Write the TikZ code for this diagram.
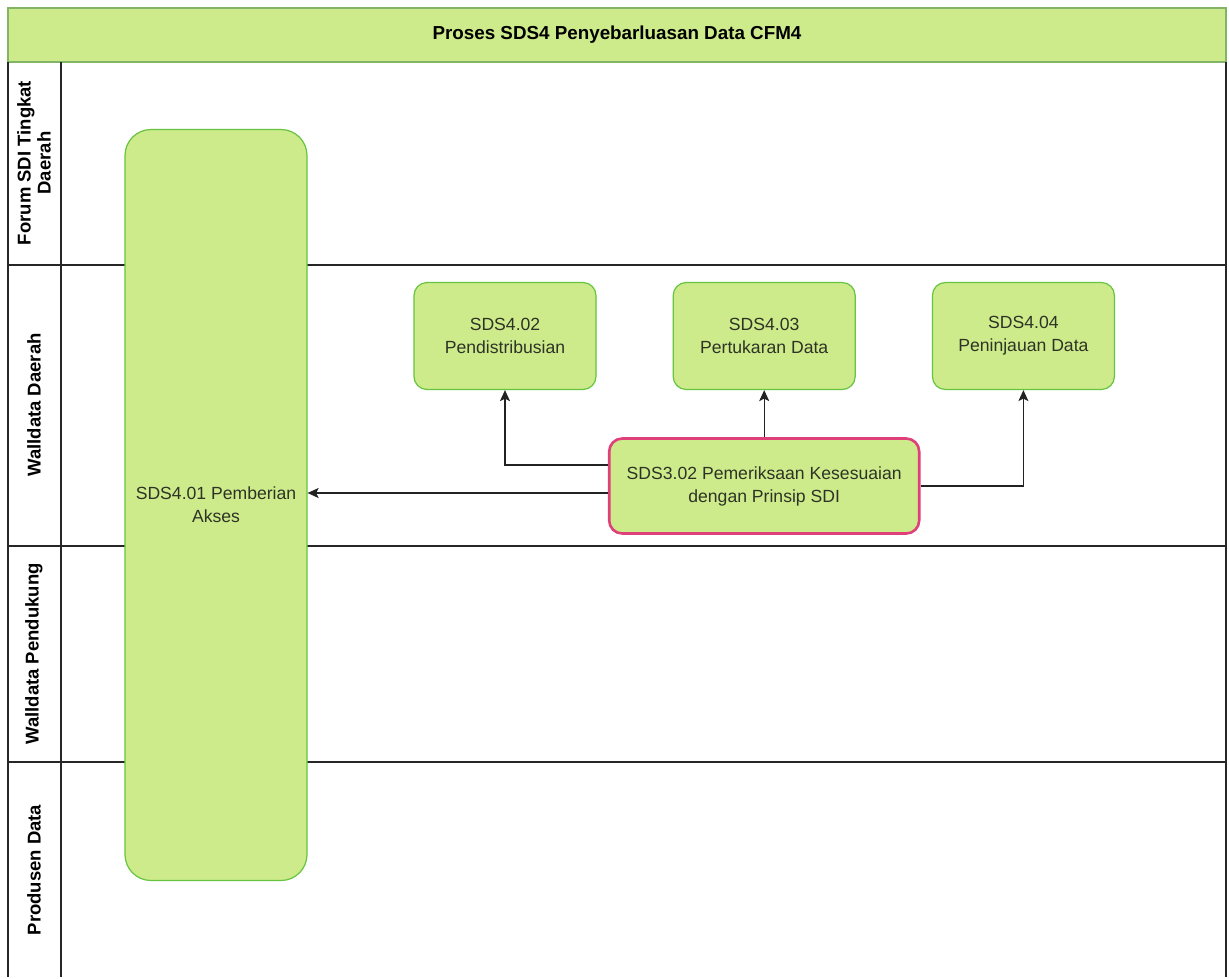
\documentclass[tikz,border=0pt]{standalone}
\usepackage{fontspec}
\setmainfont{Liberation Sans}
\usepackage{tikz}
\usetikzlibrary{chains,positioning,arrows.meta}

\definecolor{stepfill}{HTML}{CDEB8B}
\definecolor{stepgreen}{HTML}{66C43F}
\definecolor{titlegreen}{HTML}{82B366}
\definecolor{checkpink}{HTML}{E0407A}
\definecolor{textgray}{HTML}{2E3326}
\definecolor{flowgray}{HTML}{222222}

\begin{document}
\begin{tikzpicture}[
            x=1pt,y=-1pt,
            stepbox/.style={
            draw=stepgreen,
            fill=stepfill,
            line width=1.2pt,
            rounded corners=13pt,
            minimum width=182pt,
            minimum height=107pt,
            align=center,
            text=textgray,
            font=\fontsize{17.6}{23}\selectfont
            },
            checkbox/.style={
            stepbox,
            draw=checkpink,
            line width=2.6pt,
            minimum width=310pt,
            minimum height=95pt
            },
            accessbox/.style={
            stepbox,
            rounded corners=26pt,
            minimum height=751pt
            },
            lanelabel/.style={
            rotate=90,
            align=center,
            font=\bfseries\fontsize{18.5}{20}\selectfont
            },
            laneline/.style={draw=black!85, line width=2pt},
            flow/.style={draw=flowgray, line width=1.4pt,
            -{Stealth[length=11pt,width=10pt,inset=2.5pt]}},
            start chain=going right,
            node distance=76pt
            ]
            % page
            \fill[white] (0,0) rectangle (1229,977);
            % title
            \node[draw=titlegreen, fill=stepfill, line width=1.6pt,
            minimum width=1218pt, minimum height=54pt,
            font=\bfseries\fontsize{18.8}{22}\selectfont] (title) at (617,35)
            {Proses SDS4 Penyebarluasan Data CFM4};
            % lanes
            \draw[laneline] (8,62) -- (8,977);
            \draw[laneline] (61,62) -- (61,977);
            \draw[laneline] (1226,62) -- (1226,977);
            \foreach \Y in {265,546,762}
            \draw[laneline] (8,\Y) -- (1226,\Y);
            \node[lanelabel] (lane1) at (34,163) {Forum SDI Tingkat\\Daerah};
            \node[lanelabel] (lane2) at (34,405) {Walldata Daerah};
            \node[lanelabel] (lane3) at (34,654) {Walldata Pendukung};
            \node[lanelabel] (lane4) at (34,870) {Produsen Data};
            % steps
            \node[accessbox] (s401) at (216,505) {SDS4.01 Pemberian\\Akses};
            \node[stepbox,on chain] (s402) at (505,336) {SDS4.02\\Pendistribusian};
            \node[stepbox,on chain] (s403) {SDS4.03\\Pertukaran Data};
            \node[stepbox,on chain] (s404) {SDS4.04\\Peninjauan Data};
            \node[checkbox] (s302) at (s403 |- 0,486) {SDS3.02 Pemeriksaan Kesesuaian\\dengan Prinsip SDI};
            % flows
            \coordinate (out402) at ([yshift=21pt]s302.west);
            \coordinate (out401) at ([yshift=-7pt]s302.west);
            \draw[flow] (out402) -| (s402.south);
            \draw[flow] (s302.north) -- (s403.south);
            \draw[flow] (s302.east) -| (s404.south);
            \draw[flow] (out401) -- (out401 -| s401.east);
        \end{tikzpicture}
\end{document}
